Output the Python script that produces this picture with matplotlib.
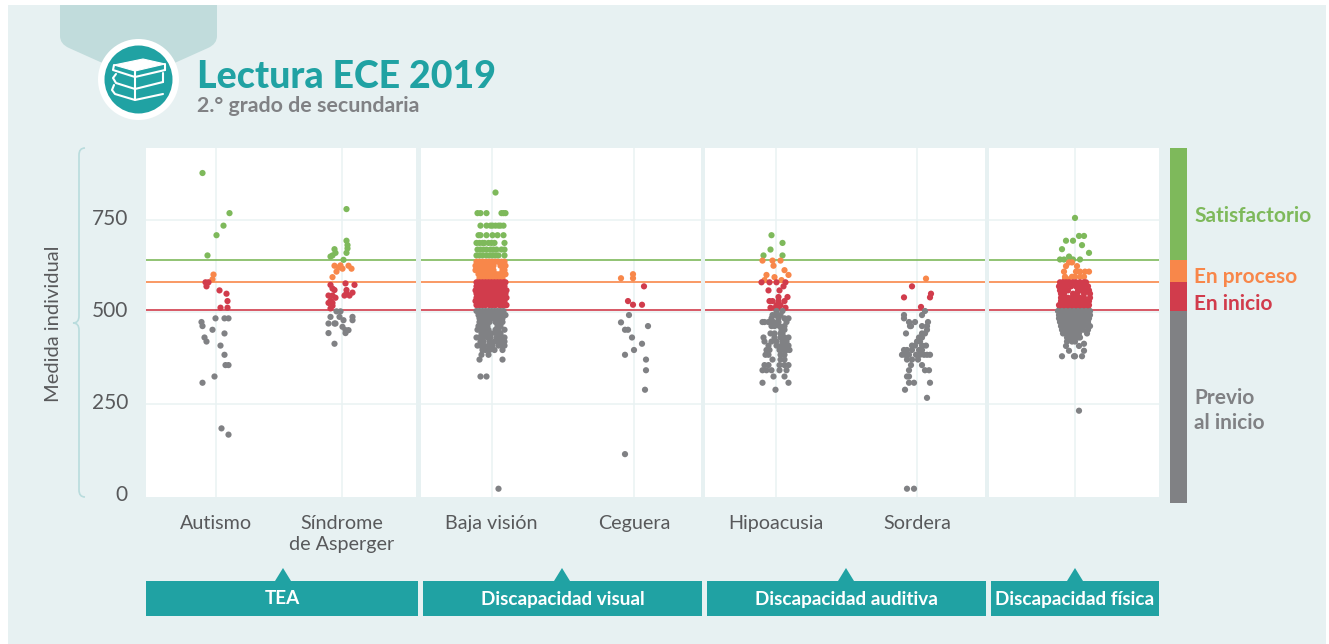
import matplotlib
matplotlib.use('Agg')
import matplotlib.pyplot as plt
import numpy as np
from matplotlib.patches import Circle, PathPatch, Polygon, Rectangle
from matplotlib.path import Path
from matplotlib.transforms import ScaledTranslation

plt.rcParams['font.family'] = ['Lato', 'DejaVu Sans']

BG = '#e7f1f2'
TEAL = '#20a2a3'
TAB = '#c1dcdc'
GRID = '#e9f2f3'
TICK_TEXT = '#58595b'
GREEN = '#7eb95b'
ORANGE = '#f8874a'
RED = '#d13c4c'
GREY = '#808184'

# achievement level cut points
cut_inicio = 505
cut_proceso = 581
cut_satisf = 641

# each category: row values, and for each row the horizontal jitter of its points
autismo_vals = [877, 768, 734, 708, 653, 601, 588, 580, 569, 558, 549, 529, 511, 482, 472, 461, 451, 441, 430, 419,
                408, 383, 355, 324, 307, 183, 166]
autismo_jit = [[-13], [14], [8], [1], [-8], [-2], [-3], [-10, -7], [-9], [4], [11], [12], [5, 12], [0, 9, 13], [-14],
               [-13], [-3], [9], [-11], [-9], [5], [9], [10, 13], [-1], [-13], [6], [13]]

asperger_vals = [779, 693, 681, 672, 670, 660, 653, 650, 641, 626, 625, 620, 617, 609, 594, 577, 573, 563, 559, 552,
                 550, 544, 538, 530, 524, 516, 509, 501, 486, 477, 468, 459, 450, 442, 413]
asperger_jit = [[5], [5], [6], [6], [-7], [-6, 5], [-9], [-11], [2], [-1], [-7, 7], [-3], [1, 10], [-5], [-9], [4],
                [-11, 13], [-9], [-7, 5], [11], [5], [-13, -9, 3, 8], [-6], [-11], [-13, -9], [-9], [-11], [-5, -1],
                [-11, -2, 11], [2, 11], [-13, -7, -6], [1], [4, 7], [-13, 4], [-7]]

baja_vals = [824, 768, 734, 708, 687, 669, 653, 636, 625, 613, 602, 591, 580, 569, 558, 549, 538, 529, 518, 502, 491,
             482, 472, 461, 451, 441, 430, 419, 408, 396, 383, 370, 324, 19]
baja_jit = [[4], [-14, -11, -5, 10, 12, 14], [-11, -5, -1, 1, 4, 7, 9, 12], [-13, -11, -5, 1, 6, 12],
            [-15, -12, -9, -7, -3, 0, 3, 13], [-14, -11, -8, -5, -1, 2, 5, 10, 13],
            [-15, -12, -9, -5, -2, 1, 4, 7, 13], [-15, -12, -9, -6, -3, 0, 3, 6, 10, 13],
            [-16, -13, -10, -7, -4, -1, 2, 9, 12, 14], [-16, -13, -10, -7, -4, -1, 2, 11, 13],
            [-13, -10, -7, -4, -1, 2, 5, 8, 11, 14], [-12, -9, -6, -3, 0, 2, 6, 9, 11],
            [-15, -12, -9, -6, -3, 0, 3, 6, 9, 12, 14], [-15, -12, -9, -6, -3, 0, 3, 7, 10, 13],
            [-16, -13, -10, -6, -3, 0, 4, 7, 10, 13, 15], [-15, -12, -9, -5, -2, 1, 4, 8, 11, 14],
            [-15, -12, -8, -5, -2, 2, 5, 8, 11, 15], [-16, -13, -10, -6, -3, 0, 4, 7, 10, 13],
            [-15, -12, -9, -6, -2, 1, 4, 8, 11, 14, 15], [-15, -12, -9, -6, -3, 0, 3, 6, 9, 12],
            [-13, -9, -6, -3, 1, 4, 7, 10, 14], [-12, -9, -6, -2, 2, 5, 8, 11], [-12, -8, -5, -2, 4, 8, 11],
            [-13, -10, -7, -4, 6, 9], [-14, -11, -8, -3, 4, 7, 13], [-10, -6, -3, 0, 5, 9],
            [-15, -12, -9, -4, -1, 5, 8, 11, 13], [-11, -8, -2, 3, 7, 10, 13], [-14, -11, -8, -3, 1, 7, 11, 13],
            [-9, -6, -2, 3, 11], [-10, -3], [-12, 11], [-11, -5], [7]]

ceguera_vals = [602, 591, 569, 529, 519, 491, 471, 461, 451, 430, 413, 396, 383, 370, 341, 288, 113]
ceguera_jit = [[-1], [-13, -1], [10], [-6], [-1, 8], [-5], [-13], [14], [-9, -6], [-2], [8], [0], [-9], [12], [12],
               [11], [-9]]

hipo_vals = [708, 687, 669, 653, 639, 625, 613, 600, 594, 586, 580, 569, 558, 540, 529, 518, 511, 502, 491, 482, 472,
             461, 451, 441, 430, 419, 408, 396, 383, 370, 355, 341, 324, 307, 288]
hipo_jit = [[-4], [7], [-5], [-12, 7], [-13, -3, 5], [-2], [9], [-9, 13], [-1], [-11, 6], [-14, -6, 1, 10], [8],
            [-7, 4], [3, 12], [-6, -3, 3, 9], [1, 5], [-5, 0, 3, 10], [1, 7], [-3, 0, 5], [-4, 3, 9, 13],
            [-13, -11, -7, -2, 3, 11], [-4, -1, 4, 9], [6, 9], [-5, -1, 5, 7], [-12, -1, 5, 9, 13],
            [-11, -4, 1, 7, 11], [-7, 1, 6, 9, 13], [-9, -6, 4, 8, 11, 14], [-10, -7, 5, 9], [-3, 5, 9],
            [-11, -7, 4, 9, 13], [-13, -9, -4, 4, 11], [-2, 9], [-13, 13], [0]]

sordera_vals = [590, 569, 549, 539, 513, 502, 491, 482, 472, 461, 451, 441, 430, 419, 408, 396, 383, 370, 355, 341,
                324, 307, 288, 266, 19]
sordera_jit = [[9], [-5], [14], [-13, 13], [4], [8], [-13, 5], [-13], [-8, -2, 11], [-7, -6, 5, 10], [10],
               [-11, 5, 8], [2, 5], [0, 3], [-5, -2, 5, 9], [-13, -10, -5, 2, 5],
               [-15, -12, -8, -1, 3, 7, 10, 13], [-10, -5, 1], [-6, 5], [-8, 8, 12], [-10, -8], [-8, -3, 13], [-12],
               [10], [-10, -3]]

fisica_vals = [755, 706, 693, 681, 670, 660, 650, 642, 634, 624, 609, 595, 588, 580, 569, 558, 549, 538, 529, 518,
               511, 502, 491, 482, 472, 461, 451, 441, 430, 419, 413, 407, 394, 379, 231]
fisica_jit = [[0], [4, 9], [-9, -2], [7], [-13], [14], [-6], [-15, -11, -4, -2, 5], [-6, -3], [-9, 2],
              [-11, 1, 5, 10, 14], [-10, -3, 0, 5, 9], [-10, -7], [-15, -12, -9, -6, -2, 1, 5, 9, 11],
              [-16, -13, -9, -4, 1, 4, 8, 13], [-15, -11, -7, 3, 6, 10, 14], [-14, -11, -2, 2, 9, 15],
              [-14, -10, -7, -3, 1, 5, 9, 15], [-14, -11, -8, -4, -1, 2, 6, 10, 14],
              [-16, -13, -9, -6, -3, 1, 4, 7, 11, 14], [-15, -11, -7, -3, 1, 5, 9, 13],
              [-17, -13, -9, -5, -1, 3, 7, 11, 15], [-16, -12, -8, -4, 0, 4, 8, 12, 15],
              [-16, -12, -8, -3, 2, 6, 10, 14], [-15, -11, -7, -3, 1, 5, 9, 13], [-14, -10, -6, -2, 3, 7, 12, 15],
              [-13, -9, -5, 0, 4, 8, 13], [-12, -8, -4, 0, 4, 12], [-8, -4, -1, 3, 5], [-8, -3, 0], [9], [-9, 4],
              [-6, 9], [-13, -1, 0, 7], [4]]

group_names = ['TEA', 'Discapacidad visual', 'Discapacidad auditiva', 'Discapacidad física']
group_cats = [['Autismo', 'Síndrome\nde Asperger'], ['Baja visión', 'Ceguera'], ['Hipoacusia', 'Sordera'], ['']]
group_vals = [[autismo_vals, asperger_vals], [baja_vals, ceguera_vals], [hipo_vals, sordera_vals], [fisica_vals]]
group_jit = [[autismo_jit, asperger_jit], [baja_jit, ceguera_jit], [hipo_jit, sordera_jit], [fisica_jit]]
y_ticks = [0, 250, 500, 750]

W, H = 1329, 644


def px_axes(x0, y0, x1, y1, **kw):
    return fig.add_axes([x0 / W, 1 - y1 / H, (x1 - x0) / W, (y1 - y0) / H], **kw)


def level_color(v):
    if v >= cut_satisf:
        return GREEN
    if v >= cut_proceso:
        return ORANGE
    if v >= cut_inicio:
        return RED
    return GREY


fig = plt.figure(figsize=(W / 100, H / 100), dpi=100, facecolor='white')

# page decoration, in pixel coordinates
deco = px_axes(0, 0, W, H)
deco.set_xlim(0, W)
deco.set_ylim(H, 0)
deco.axis('off')
deco.add_patch(Rectangle((8, 5), W - 11, H - 5, fc=BG, ec='none'))

tab = Path([(60, 5), (217, 5), (217, 36), (217, 44), (208, 48), (150, 74), (127, 74), (69, 48), (60, 44), (60, 36),
            (60, 5)],
           [Path.MOVETO, Path.LINETO, Path.LINETO, Path.CURVE3, Path.CURVE3, Path.LINETO, Path.LINETO, Path.LINETO,
            Path.CURVE3, Path.CURVE3, Path.CLOSEPOLY])
deco.add_patch(PathPatch(tab, fc=TAB, ec='none'))
deco.add_patch(Circle((138.5, 79.5), 40.5, fc='white', ec='none'))
deco.add_patch(Circle((138.5, 79.5), 34, fc=TEAL, ec='none'))

# book icon
deco.add_patch(Polygon([(114, 65), (143, 59), (165, 64), (135, 71)], fc='white', ec='white', lw=0.8))
for pts in [[(114, 65), (113, 70), (135, 77), (165, 70)],
            [(135, 71), (135, 77)],
            [(165, 64), (165, 70)],
            [(116, 74), (113, 78), (116, 83), (135, 89), (163, 82)],
            [(135, 77), (135, 89)],
            [(163, 73), (163, 82)],
            [(114, 85), (112, 90), (115, 94), (135, 100), (163, 94)],
            [(135, 89), (135, 100)]]:
    deco.plot(*zip(*pts), color='white', lw=1.5, solid_capstyle='round', solid_joinstyle='round')

deco.text(197, 76.5, 'Lectura ECE 2019', color=TEAL, fontsize=27, fontweight='black', va='center', ha='left')
deco.text(197, 106, '2.° grado de secundaria', color=GREY, fontsize=15.4, fontweight='bold', va='center', ha='left')

# brace next to the y axis
brace = Path([(85, 148), (79, 148), (79, 155), (79, 316), (79, 323), (73, 323), (79, 323), (79, 330), (79, 490),
              (79, 497), (85, 497)],
             [Path.MOVETO, Path.CURVE3, Path.CURVE3, Path.LINETO, Path.CURVE3, Path.CURVE3, Path.CURVE3, Path.CURVE3,
              Path.LINETO, Path.CURVE3, Path.CURVE3])
deco.add_patch(PathPatch(brace, fc='none', ec='#b9dcdd', lw=1.2))
deco.text(54, 323.5, 'Medida individual', rotation=90, color=TICK_TEXT, fontsize=14.5, va='center', ha='center')

# panels
panel_x = [(146, 416), (421, 701), (705, 985), (989, 1159)]
centers = [(215.5, 341.5), (491.5, 634), (775.5, 917), (1075,)]

for i, (x0, x1) in enumerate(panel_x):
    ax = px_axes(x0, 148, x1, 497)
    ax.set_facecolor('white')
    pos = [c - centers[i][0] for c in centers[i]]
    ax.set_xlim(x0 - centers[i][0], x1 - centers[i][0])
    ax.set_ylim(-3.5, 945)
    for s in ax.spines.values():
        s.set_visible(False)
    ax.set_axisbelow(True)
    ax.grid(True, color=GRID, lw=1.1)
    ax.set_xticks(pos)
    ax.set_xticklabels(group_cats[i], color=TICK_TEXT, fontsize=14.2, linespacing=1.25)
    ax.tick_params(axis='both', length=0)
    ax.tick_params(axis='x', pad=13)
    ax.set_yticks(y_ticks)
    ax.yaxis.get_gridlines()[0].set_visible(False)
    if i == 0:
        ax.set_yticklabels([str(t) for t in y_ticks], color=TICK_TEXT, fontsize=15)
        ax.tick_params(axis='y', pad=13)
        for lab in ax.get_yticklabels():
            lab.set_transform(lab.get_transform() + ScaledTranslation(0, 3 / 100, fig.dpi_scale_trans))
    else:
        ax.set_yticklabels([])

    ax.axhline(cut_satisf, color=GREEN, lw=1.2, zorder=2)
    ax.axhline(cut_proceso, color=ORANGE, lw=1.2, zorder=2)
    ax.axhline(cut_inicio, color=RED, lw=1.2, zorder=2)

    for p, vals, jit in zip(pos, group_vals[i], group_jit[i]):
        ys = np.repeat(vals, [len(j) for j in jit])
        xs = p + np.array([o for j in jit for o in j], dtype=float)
        ax.scatter(xs, ys, s=20, c=[level_color(v) for v in ys], linewidths=0, zorder=3, clip_on=False)

# level colour bar
deco.add_patch(Rectangle((1170, 148), 17, 112, fc=GREEN, ec='none'))
deco.add_patch(Rectangle((1170, 260), 17, 22, fc=ORANGE, ec='none'))
deco.add_patch(Rectangle((1170, 282), 17, 29, fc=RED, ec='none'))
deco.add_patch(Rectangle((1170, 311), 17, 192, fc=GREY, ec='none'))
deco.text(1194, 216, 'Satisfactorio', color=GREEN, fontsize=15, fontweight='bold', va='center')
deco.text(1194, 277, 'En proceso', color=ORANGE, fontsize=15, fontweight='bold', va='center')
deco.text(1194, 304, 'En inicio', color=RED, fontsize=15, fontweight='bold', va='center')
deco.text(1194, 398, 'Previo', color=GREY, fontsize=15, fontweight='bold', va='center')
deco.text(1194, 423, 'al inicio', color=GREY, fontsize=15, fontweight='bold', va='center')

# group boxes under the panels
box_x = [(146, 418), (423, 702), (707, 986), (991, 1159)]
tip_x = [283, 562, 846, 1075]
for name, (x0, x1), tx in zip(group_names, box_x, tip_x):
    deco.add_patch(Rectangle((x0, 581), x1 - x0, 35, fc=TEAL, ec='none'))
    deco.add_patch(Polygon([(tx - 8, 581), (tx, 568), (tx + 8, 581)], fc=TEAL, ec='none'))
    deco.text((x0 + x1) / 2, 599, name, color='white', fontsize=13.6, fontweight='bold', ha='center', va='center')

fig.savefig('out.png', dpi=100, facecolor=fig.get_facecolor())
